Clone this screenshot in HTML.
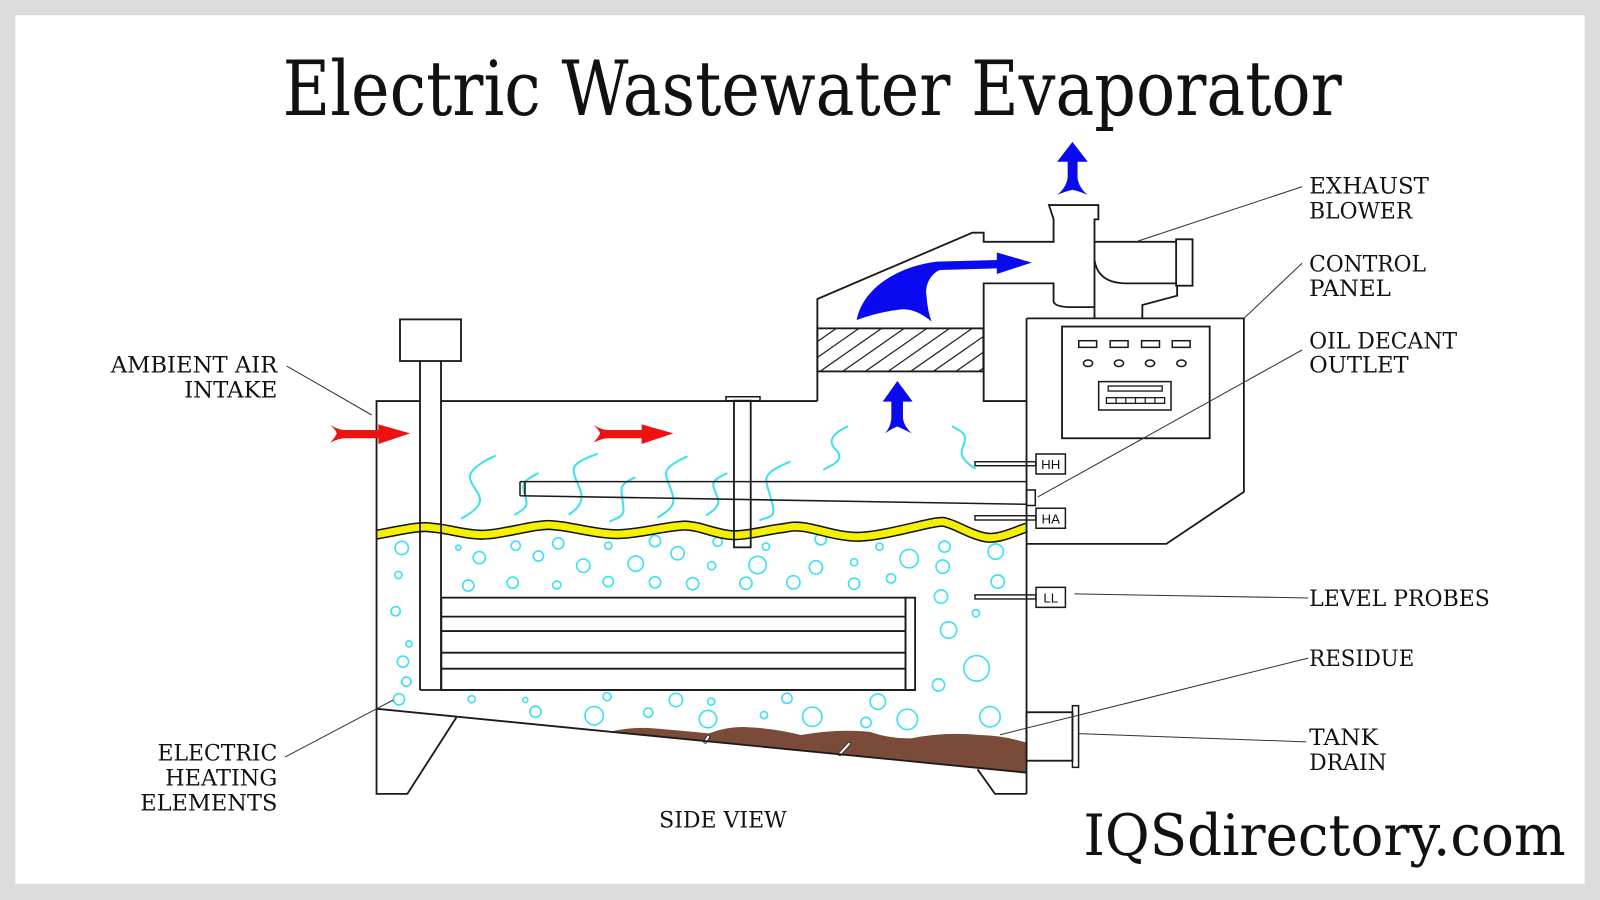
<!DOCTYPE html>
<html>
<head>
<meta charset="utf-8">
<style>
html,body{margin:0;padding:0;background:#dcdcdc;}
svg{display:block;}
</style>
</head>
<body>
<svg width="1600" height="900" viewBox="0 0 1568 882" xmlns="http://www.w3.org/2000/svg">
<defs>
<clipPath id="fc"><rect x="801" y="321.8" width="162.7" height="42.2"/></clipPath>
</defs>
<rect x="0" y="0" width="1568" height="882" fill="#dcdcdc"/>
<rect x="15" y="15" width="1538" height="851" fill="#ffffff"/>

<!-- Title -->
<text x="277" y="112.7" font-family="'DejaVu Serif','Liberation Serif',serif" font-size="74" fill="#111" textLength="1038" lengthAdjust="spacingAndGlyphs">Electric Wastewater Evaporator</text>

<!-- residue -->
<path d="M598,717.1 Q620,712 640.7,713.8 Q668,716 694.8,718.7 Q715,711 735.3,712.8 Q760,714 784.8,720.3 Q820,714 852.2,717.1 Q872,724 892.8,723.6 Q925,717 960.2,720.3 Q985,721 1006.2,727.9 L1006.2,757.2 Z" fill="#7b4b3a"/>
<g stroke-linecap="round">
<line x1="691.2" y1="726.8" x2="694" y2="722" stroke="#333" stroke-width="4"/>
<line x1="691.2" y1="726.8" x2="694" y2="722" stroke="#fff" stroke-width="2"/>
<line x1="823" y1="738.9" x2="832" y2="729" stroke="#333" stroke-width="4"/>
<line x1="823" y1="738.9" x2="832" y2="729" stroke="#fff" stroke-width="2"/>
</g>

<!-- bubbles -->
<g fill="none" stroke="#3fe0ef" stroke-width="1.6">
<circle cx="393.7" cy="537" r="6.5"/><circle cx="390.4" cy="563.5" r="3.5"/><circle cx="387.7" cy="599" r="4.5"/><circle cx="400.8" cy="631" r="3"/><circle cx="394.9" cy="648.4" r="5.5"/><circle cx="398.2" cy="668" r="4.5"/><circle cx="391" cy="685.3" r="5.5"/>
<circle cx="449.2" cy="536.7" r="2.5"/><circle cx="505.4" cy="534.8" r="4.5"/><circle cx="547.1" cy="532.5" r="5.5"/><circle cx="596.1" cy="534.8" r="3.5"/><circle cx="641.9" cy="530.2" r="5.5"/><circle cx="703.3" cy="530.9" r="4.5"/>
<circle cx="469.7" cy="546.5" r="6"/><circle cx="527.6" cy="544.9" r="5"/><circle cx="664.1" cy="542.2" r="6.5"/>
<circle cx="571.6" cy="554.4" r="6.5"/><circle cx="623" cy="552.4" r="7.5"/><circle cx="697.4" cy="554.4" r="4"/><circle cx="742.5" cy="553.7" r="8.5"/>
<circle cx="458.9" cy="573.9" r="5.5"/><circle cx="502.4" cy="571" r="5.5"/><circle cx="545.6" cy="573.3" r="4"/><circle cx="596.1" cy="570" r="5"/><circle cx="641.9" cy="570.7" r="5.5"/><circle cx="678.8" cy="572" r="6"/><circle cx="731" cy="571.6" r="6"/><circle cx="777.5" cy="570.7" r="6.5"/>
<circle cx="750.6" cy="535.7" r="3.5"/><circle cx="804.3" cy="528.5" r="5.5"/><circle cx="861.9" cy="535.7" r="3.5"/><circle cx="925.6" cy="535.7" r="5.5"/><circle cx="975.8" cy="540.6" r="7.5"/><circle cx="891" cy="547.5" r="9"/><circle cx="799.6" cy="556" r="6.5"/><circle cx="837" cy="551" r="3.5"/><circle cx="923.8" cy="555.3" r="6.5"/><circle cx="837" cy="572" r="5.5"/><circle cx="873.2" cy="566.8" r="4.5"/><circle cx="977.8" cy="570" r="6.5"/><circle cx="922.2" cy="584.7" r="6.5"/><circle cx="956.4" cy="601" r="3.5"/><circle cx="929.6" cy="617.4" r="8"/><circle cx="957.1" cy="655" r="12.5"/><circle cx="919.7" cy="671.3" r="6"/>
<circle cx="462.2" cy="685.3" r="3.5"/><circle cx="514.8" cy="686" r="2.5"/><circle cx="594.9" cy="682.7" r="4"/><circle cx="662.4" cy="686" r="6.5"/><circle cx="697" cy="687.6" r="3.5"/><circle cx="771.3" cy="684.3" r="5"/><circle cx="860.3" cy="687.6" r="7.5"/>
<circle cx="524.7" cy="697.5" r="5.5"/><circle cx="582.3" cy="701.4" r="9"/><circle cx="635.3" cy="698.4" r="4.5"/><circle cx="693.8" cy="704.7" r="8.5"/><circle cx="748.7" cy="700.8" r="3.5"/><circle cx="796" cy="702.4" r="9.5"/><circle cx="848.7" cy="708" r="5"/><circle cx="889.2" cy="705" r="10"/><circle cx="970.2" cy="702.4" r="10"/>
</g>

<!-- steam wisps -->
<g fill="none" stroke="#3fe0ef" stroke-width="2" stroke-linecap="round">
<path d="M485,447 C477,450 461,459 460.6,467 S470.4,482 470.4,490 S458,505 452.5,508"/>
<path d="M527,464 C521,467 513,471 512.9,477 S516,487 516,493 S508,502 504.7,504.3"/>
<path d="M585,445 C577,448 562,453 562,460.6 S570,479 570,486.8 S564,500 558,504"/>
<path d="M622,468 C616,471 609,474 609,480 S611,493 611,500 S603,508 598,511"/>
<path d="M673,447.5 C665,451 652.7,457 652.7,464 S660,482 660,490 S651,503 645,507"/>
<path d="M712,464 C706,467 699,470 699,475 S704,486 704,491.6 S697,502 692.5,504.7"/>
<path d="M774,452.5 C766,456 751,462 751,470 S758,492 758,500 S750,507 745,509.6"/>
<path d="M830.4,418 C824,421 815,426 815,432.8 S822.5,441 822.5,447.5 S812,457 807.5,460"/>
<path d="M933.6,418 C939,421 945.7,424 945.7,429.5 S942.5,438 942.5,444.2 S951,456 955.5,459"/>
</g>

<!-- liquid surface -->
<g fill="none">
<path id="wave" d="M369,524 C375.7,522.8 398.7,518 409,517 C419.3,516 420.2,516.8 431,518 C441.8,519.2 458.2,524.4 474,524 C489.8,523.6 513.5,516.9 526,515.5 C538.5,514.1 536,514.2 549,515.5 C562,516.8 585.5,523.4 604,523.5 C622.5,523.6 647.3,517.3 660,516 C672.7,514.75 670.2,514.6 680,516 C689.8,517.4 705,524.2 719,524.5 C733,524.8 752.7,519.3 764,518 C775.3,516.7 773.8,515.2 787,516.5 C800.2,517.8 821.3,526.75 843,526 C864.7,525.25 902.5,514.2 917,512 C925,511 924,511 930,513 C938.7,515.5 956.3,526.3 969,527 C981.7,527.7 999.8,518.7 1006,517" stroke="#111" stroke-width="10"/>
<path d="M369,524 C375.7,522.8 398.7,518 409,517 C419.3,516 420.2,516.8 431,518 C441.8,519.2 458.2,524.4 474,524 C489.8,523.6 513.5,516.9 526,515.5 C538.5,514.1 536,514.2 549,515.5 C562,516.8 585.5,523.4 604,523.5 C622.5,523.6 647.3,517.3 660,516 C672.7,514.75 670.2,514.6 680,516 C689.8,517.4 705,524.2 719,524.5 C733,524.8 752.7,519.3 764,518 C775.3,516.7 773.8,515.2 787,516.5 C800.2,517.8 821.3,526.75 843,526 C864.7,525.25 902.5,514.2 917,512 C925,511 924,511 930,513 C938.7,515.5 956.3,526.3 969,527 C981.7,527.7 999.8,518.7 1006,517" stroke="#f5f000" stroke-width="7"/>
</g>

<!-- filter hatch -->
<g clip-path="url(#fc)" stroke="#222" stroke-width="1.2">
<line x1="737" y1="364" x2="797.4" y2="321.8"/>
<line x1="759.2" y1="364" x2="819.6" y2="321.8"/>
<line x1="781.4" y1="364" x2="841.8" y2="321.8"/>
<line x1="803.6" y1="364" x2="864" y2="321.8"/>
<line x1="825.8" y1="364" x2="886.2" y2="321.8"/>
<line x1="848" y1="364" x2="908.4" y2="321.8"/>
<line x1="870.2" y1="364" x2="930.6" y2="321.8"/>
<line x1="892.4" y1="364" x2="952.8" y2="321.8"/>
<line x1="914.6" y1="364" x2="975" y2="321.8"/>
<line x1="936.8" y1="364" x2="997.2" y2="321.8"/>
<line x1="959" y1="364" x2="1019.4" y2="321.8"/>
</g>

<!-- outlines -->
<g fill="none" stroke="#1a1a1a" stroke-width="1.8" stroke-linejoin="miter">
<path d="M801,393 L432.2,393 M411.6,393 L369,393 L369,778 L399.2,778 L447.3,703"/>
<path d="M369,694.6 L1006,757.2"/>
<path d="M958,753.9 L975.1,778 L1006,778"/>
<path d="M1006,312 L1006,778"/>
<path d="M801,393 L801,293 L953,228 L964,228 L964,237 L1032.5,237 L1032.5,214.7 L1028,201 L1076.4,201 L1076.4,215 L1072.6,215 L1072.6,312"/>
<path d="M1006,393 L964,393 L964,277.7 L1032.5,277.7 L1032.5,295 Q1033,301 1051,301 L1072.6,301"/>
<rect x="801" y="321.8" width="162.7" height="42.2"/>
<path d="M1072.6,237 L1152.6,237"/>
<rect x="1152.6" y="234.5" width="16.1" height="45.5"/>
<path d="M1072.6,254.8 Q1076,277.7 1104,277.7 L1152.6,277.7"/>
<path d="M1153.6,280 L1153.6,289.8 L1119.5,298.9 L1119.5,312"/>
<path d="M1006,312 L1219,312 L1219,482 L1143,533 L1006,533"/>
<rect x="1040.8" y="320" width="144.7" height="109.5"/>
<rect x="1057.2" y="333.9" width="17.5" height="6.5" stroke-width="1.5"/>
<rect x="1088" y="333.9" width="17.5" height="6.5" stroke-width="1.5"/>
<rect x="1118.8" y="333.9" width="17.5" height="6.5" stroke-width="1.5"/>
<rect x="1148.8" y="333.9" width="17.5" height="6.5" stroke-width="1.5"/>
<ellipse cx="1066.3" cy="356" rx="4.5" ry="3.2" stroke-width="1.5"/>
<ellipse cx="1096.6" cy="356" rx="4.5" ry="3.2" stroke-width="1.5"/>
<ellipse cx="1127" cy="356" rx="4.5" ry="3.2" stroke-width="1.5"/>
<ellipse cx="1157.8" cy="356" rx="4.5" ry="3.2" stroke-width="1.5"/>
<rect x="1076.7" y="374" width="70.9" height="27.8" stroke-width="1.5"/>
<rect x="1086" y="378.3" width="53" height="4.9" stroke-width="1.3"/>
<rect x="1084.3" y="389.7" width="57" height="5.6" stroke-width="1.3"/>
<path d="M1093.8,389.7 V395.3 M1103.3,389.7 V395.3 M1112.8,389.7 V395.3 M1122.3,389.7 V395.3 M1131.8,389.7 V395.3" stroke-width="1.2"/>
<rect x="392" y="313" width="59.8" height="40.8"/>
<path d="M411.6,353.8 L411.6,676.2 M432.2,353.8 L432.2,676.2"/>
<path d="M411.6,676.2 L896.8,676.2"/>
<rect x="432.5" y="585.7" width="454.9" height="90.5"/>
<path d="M432.5,604.3 H887.4 M432.5,618.4 H887.4 M432.5,639.6 H887.4 M432.5,655.3 H887.4"/>
<rect x="887.4" y="585.7" width="9.4" height="90.5"/>
<rect x="711.5" y="388.8" width="33.3" height="3.9" stroke-width="1.5"/>
<rect x="719.3" y="392.7" width="16.4" height="143.7"/>
<path d="M509.6,472 L1006,472 M509.6,485.8 L1006,494.2 M509.6,472 L509.6,485.8 M514.5,472 L514.5,486.2" stroke-width="1.5"/>
<rect x="1006" y="480.2" width="8.6" height="15.2" stroke-width="1.5"/>
<rect x="955.5" y="452.5" width="59.5" height="3.9" stroke-width="1.4"/>
<rect x="955.5" y="505.4" width="59.5" height="4.2" stroke-width="1.4"/>
<rect x="955.5" y="583" width="59.5" height="4" stroke-width="1.4"/>
<rect x="1015.3" y="444.9" width="28.8" height="19.6" stroke-width="1.5"/>
<rect x="1015.3" y="498.1" width="28.8" height="19.6" stroke-width="1.5"/>
<rect x="1015.3" y="575.6" width="28.8" height="19.6" stroke-width="1.5"/>
<rect x="1006" y="698" width="45" height="47.5"/>
<rect x="1051" y="691.6" width="6" height="60.4" stroke-width="1.5"/>
</g>

<g font-family="'Liberation Sans',Arial,sans-serif" font-size="13" fill="#111" text-anchor="middle">
<text x="1029.7" y="459.6">HH</text>
<text x="1029.7" y="512.8">HA</text>
<text x="1029.7" y="590.3">LL</text>
</g>

<g fill="#ee1111">
<path d="M581.5,416.5 Q590,421.4 596,421.4 L628.8,421.4 L628.8,415.9 L659.9,424.7 L628.8,435.1 L628.8,429.5 L596,429.5 Q590,429.5 581.5,433.8 Q587,428 588,424.7 Q587,421 581.5,416.5 Z"/>
<path transform="translate(-258,0)" d="M581.5,416.5 Q590,421.4 596,421.4 L628.8,421.4 L628.8,415.9 L659.9,424.7 L628.8,435.1 L628.8,429.5 L596,429.5 Q590,429.5 581.5,433.8 Q587,428 588,424.7 Q587,421 581.5,416.5 Z"/>
</g>
<g fill="#0a0af0">
<path d="M879.4,373.4 L894.4,393.6 L884.9,393.6 L884.9,410 Q886,418 893.5,424.7 Q884,420 879.4,418 Q874,420 867.3,424.7 Q873,418 873.5,410 L873.5,393.6 L865,393.6 Z"/>
<path d="M1051,139 L1066,158.5 L1056,158.5 L1056,174 Q1057,184 1066,191 Q1056,187 1051,186 Q1046,187 1036,191 Q1045,184 1046.3,174 L1046.3,158.5 L1036,158.5 Z"/>
<path d="M839.5,313.6 C845,285 875,262 918,256.4 L976.9,254.8 L976.9,247.4 L1011.1,257.4 L976.9,268.5 L976.9,263 L921.2,264.6 C912,268 906,280 908,290 Q909,305 913,315.2 Q895,300 878.7,303.8 Q860,306 839.5,313.6 Z"/>
</g>

<g stroke="#333" stroke-width="1" fill="none">
<line x1="1113" y1="237" x2="1276" y2="183"/>
<line x1="1219" y1="312" x2="1276" y2="258"/>
<line x1="1017" y1="487" x2="1276" y2="343"/>
<line x1="1053" y1="582" x2="1282" y2="586"/>
<line x1="980" y1="720" x2="1282" y2="645"/>
<line x1="1057" y1="719" x2="1280" y2="727"/>
<line x1="281" y1="358.7" x2="364.3" y2="406.7"/>
<line x1="279.3" y1="741.9" x2="385.4" y2="686"/>
</g>

<g font-family="'DejaVu Serif','Liberation Serif',serif" font-size="21.5" fill="#111">
<text x="1283" y="189.5" textLength="117.4" lengthAdjust="spacingAndGlyphs">EXHAUST</text>
<text x="1283" y="214" textLength="101" lengthAdjust="spacingAndGlyphs">BLOWER</text>
<text x="1283" y="266" textLength="114.4" lengthAdjust="spacingAndGlyphs">CONTROL</text>
<text x="1283" y="290" textLength="80" lengthAdjust="spacingAndGlyphs">PANEL</text>
<text x="1283" y="341.4" textLength="145" lengthAdjust="spacingAndGlyphs">OIL DECANT</text>
<text x="1283" y="365" textLength="97.5" lengthAdjust="spacingAndGlyphs">OUTLET</text>
<text x="1283" y="594" textLength="177" lengthAdjust="spacingAndGlyphs">LEVEL PROBES</text>
<text x="1283" y="652.7" textLength="103" lengthAdjust="spacingAndGlyphs">RESIDUE</text>
<text x="1283" y="730" textLength="67.5" lengthAdjust="spacingAndGlyphs">TANK</text>
<text x="1283" y="754.6" textLength="76" lengthAdjust="spacingAndGlyphs">DRAIN</text>
<text x="108.5" y="365.2" textLength="163.3" lengthAdjust="spacingAndGlyphs">AMBIENT AIR</text>
<text x="180.4" y="389.7" textLength="91.4" lengthAdjust="spacingAndGlyphs">INTAKE</text>
<text x="154.3" y="745.5" textLength="117.5" lengthAdjust="spacingAndGlyphs">ELECTRIC</text>
<text x="161.8" y="770" textLength="110" lengthAdjust="spacingAndGlyphs">HEATING</text>
<text x="137.4" y="794.5" textLength="134.4" lengthAdjust="spacingAndGlyphs">ELEMENTS</text>
<text x="646" y="810.8" textLength="125" lengthAdjust="spacingAndGlyphs">SIDE VIEW</text>
</g>

<text x="1061.7" y="838" font-family="'DejaVu Serif','Liberation Serif',serif" font-size="56" fill="#111" textLength="472.6" lengthAdjust="spacingAndGlyphs">IQSdirectory.com</text>
</svg>
</body>
</html>
